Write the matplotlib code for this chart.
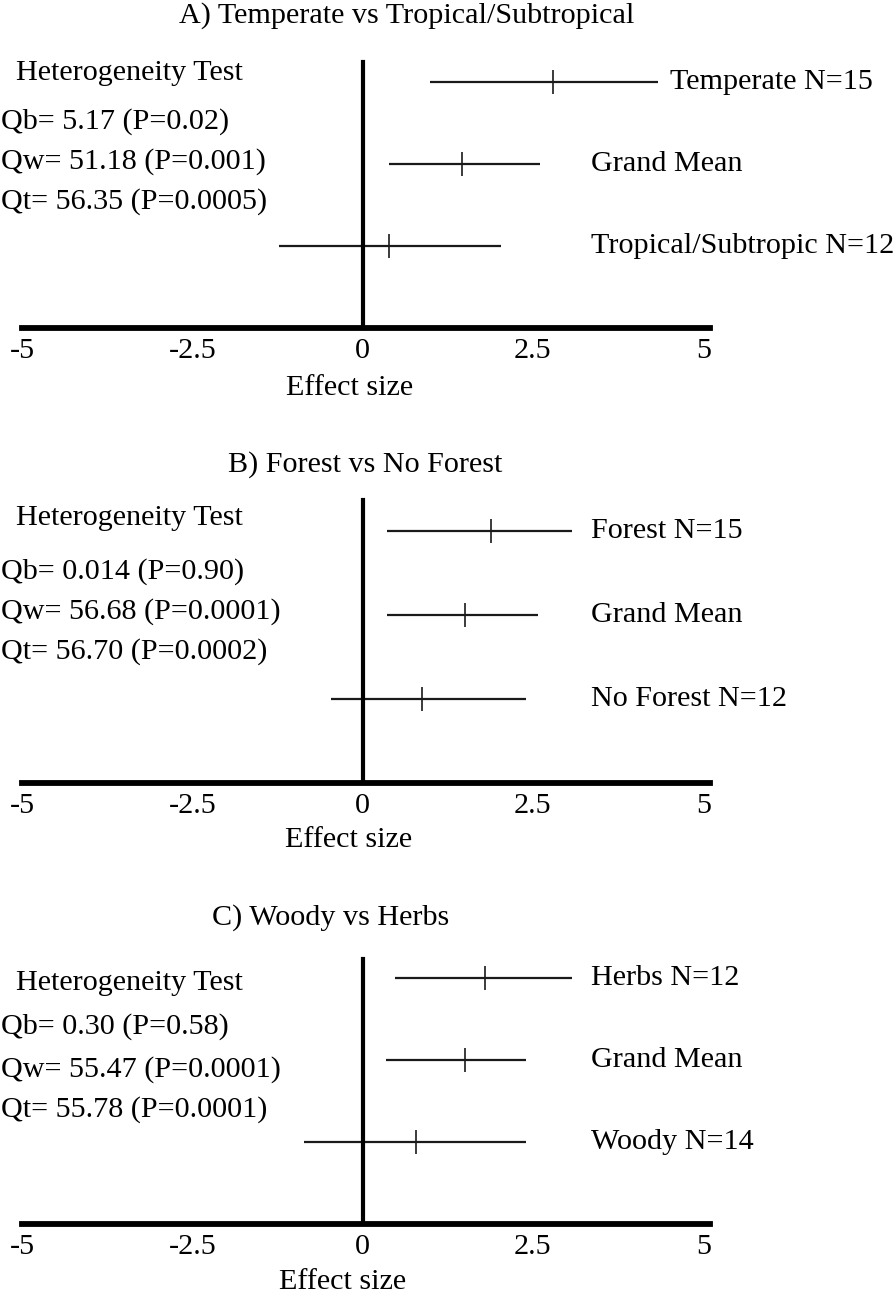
import numpy as np
import matplotlib.pyplot as plt

plt.rcParams['font.family'] = ['Liberation Serif', 'DejaVu Serif']
plt.rcParams['font.size'] = 21.7

titles = ['A) Temperate vs Tropical/Subtropical',
          'B) Forest vs No Forest',
          'C) Woody vs Herbs']

row_labels = [
    ['Temperate N=15', 'Grand Mean', 'Tropical/Subtropic N=12'],
    ['Forest N=15', 'Grand Mean', 'No Forest N=12'],
    ['Herbs N=12', 'Grand Mean', 'Woody N=14'],
]
means   = [[2.79, 1.46, 0.39], [1.89, 1.51, 0.87], [1.79, 1.50, 0.79]]
ci_low  = [[0.99, 0.39, -1.23], [0.36, 0.36, -0.46], [0.47, 0.34, -0.86]]
ci_high = [[4.34, 2.60, 2.03], [3.07, 2.57, 2.40], [3.07, 2.40, 2.40]]

stats = [
    ['Qb= 5.17 (P=0.02)', 'Qw= 51.18 (P=0.001)', 'Qt= 56.35 (P=0.0005)'],
    ['Qb= 0.014 (P=0.90)', 'Qw= 56.68 (P=0.0001)', 'Qt= 56.70 (P=0.0002)'],
    ['Qb= 0.30 (P=0.58)', 'Qw= 55.47 (P=0.0001)', 'Qt= 55.78 (P=0.0001)'],
]
xticks = [-5, -2.5, 0, 2.5, 5]
xticklabels = ['-5', '-2.5', '0', '2.5', '5']

# layout (pixels of the 896x1296 canvas)
W, H = 896, 1296
ax_px = [(62, 328), (500, 783), (959, 1224)]      # top, bottom of each panel
title_px = [(407, 16), (365, 465), (331, 918)]
xlabel_px = [(350, 388), (349, 840), (343, 1282)]
het_y = [73, 518, 983]
q_y = [[122, 162, 202], [572, 612, 652], [1027, 1070, 1110]]
ytop = [3.24, 3.37, 3.23]

fig = plt.figure(figsize=(W / 100, H / 100), dpi=100)

for i in range(3):
    top, bot = ax_px[i]
    ax = fig.add_axes([22 / W, 1 - bot / H, (710 - 22) / W, (bot - top) / H])
    ax.set_xlim(-5, 5.1)
    ax.set_ylim(0, ytop[i])
    for s in ['top', 'right']:
        ax.spines[s].set_visible(False)
    ax.spines['left'].set_position(('data', 0))
    ax.spines['left'].set_linewidth(3)
    ax.spines['bottom'].set_linewidth(4.2)
    ax.set_yticks([])
    ax.set_xticks(xticks)
    ax.set_xticklabels(xticklabels)
    ax.tick_params(axis='x', length=0, pad=7)

    ys = [3, 2, 1]
    ax.hlines(ys, ci_low[i], ci_high[i], color='#1a1a1a', lw=1.6)
    ax.plot(means[i], ys, ls='none', marker='|', ms=17, mew=1.2, color='#1a1a1a')
    for y, lab, hi in zip(ys, row_labels[i], ci_high[i]):
        ax.text(max(3.35, hi + 0.17), y, lab, ha='left', va='center', clip_on=False)

    tx, ty = title_px[i]
    fig.text(tx / W, 1 - ty / H, titles[i], ha='center', va='center')
    lx, ly = xlabel_px[i]
    fig.text(lx / W, 1 - ly / H, 'Effect size', ha='center', va='center')
    fig.text(16 / W, 1 - het_y[i] / H, 'Heterogeneity Test', ha='left', va='center')
    for yq, s in zip(q_y[i], stats[i]):
        fig.text(1 / W, 1 - yq / H, s, ha='left', va='center')

fig.savefig('out.png', dpi=100)
